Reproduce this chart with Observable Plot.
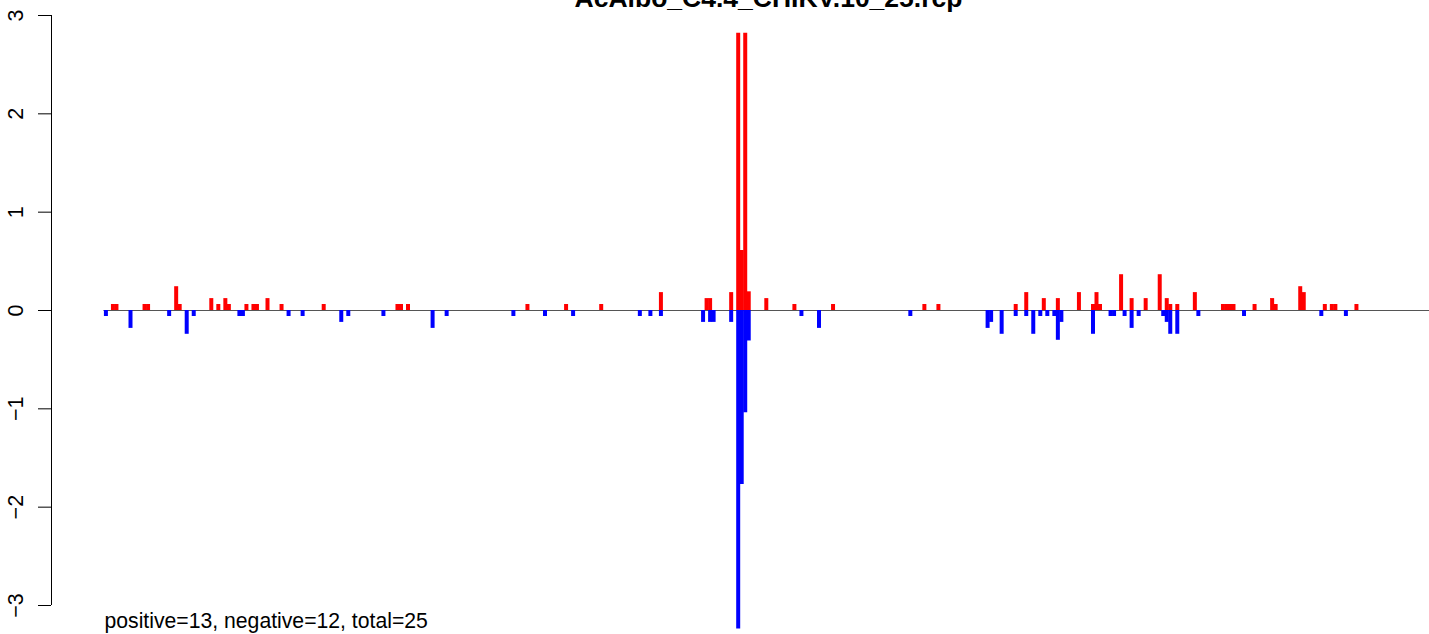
<!DOCTYPE html>
<html><head><meta charset="utf-8">
<script src="https://cdn.jsdelivr.net/npm/d3@7"></script>
<script src="https://cdn.jsdelivr.net/npm/@observablehq/plot@0.6"></script>
<style>
html,body{margin:0;padding:0;background:#fff;overflow:hidden}
#chart svg{display:block}
</style></head><body><div id="chart"></div>
<script>
const title = "AcAlbo_C4.4_CHIKV.10_25.rcp";
const caption = "positive=13, negative=12, total=25";
const yTicks = [-3, -2, -1, 0, 1, 2, 3];

// positive (red) bins: bin index and value
const posIndex = [2, 3, 11, 12, 20, 21, 30, 32, 34, 35, 40, 42, 43, 46, 50, 62, 83, 84, 86,
  120, 131, 141, 158, 171, 172, 178, 180, 181, 182, 183, 188, 196, 207, 233, 237,
  259, 262, 267, 271, 277, 281, 282, 283, 289, 292, 296, 300, 302, 303, 305, 310,
  318, 319, 320, 321, 327, 332, 333, 340, 341, 347, 349, 350, 356];
const posValue = [0.061, 0.061, 0.061, 0.061, 0.242, 0.061, 0.121, 0.061, 0.121, 0.061, 0.061, 0.061, 0.061, 0.121, 0.061, 0.061, 0.061, 0.061, 0.061,
  0.061, 0.061, 0.061, 0.182, 0.121, 0.121, 0.182, 2.82, 0.61, 2.82, 0.19, 0.121, 0.061, 0.061, 0.061, 0.061,
  0.061, 0.182, 0.121, 0.121, 0.182, 0.061, 0.182, 0.061, 0.364, 0.121, 0.121, 0.364, 0.121, 0.061, 0.061, 0.182,
  0.061, 0.061, 0.061, 0.061, 0.061, 0.121, 0.061, 0.242, 0.182, 0.061, 0.061, 0.061, 0.061];

// negative (blue) bins
const negIndex = [0, 7, 18, 23, 25, 38, 39, 52, 56, 67, 69, 79, 93, 97, 116, 125, 133, 152, 155, 158,
  170, 172, 173, 178, 180, 181, 182, 183, 198, 203, 229, 251, 252, 255, 259, 262, 264, 266, 268, 270,
  271, 272, 281, 286, 287, 290, 292, 294, 301, 302, 303, 305, 311, 324, 346, 353];
const negValue = [-0.061, -0.182, -0.061, -0.242, -0.061, -0.061, -0.061, -0.061, -0.061, -0.121, -0.061, -0.061, -0.182, -0.061, -0.061, -0.061, -0.061, -0.061, -0.061, -0.061,
  -0.121, -0.121, -0.121, -0.121, -3.24, -1.77, -1.04, -0.31, -0.061, -0.182, -0.061, -0.182, -0.121, -0.242, -0.061, -0.061, -0.242, -0.061, -0.061, -0.061,
  -0.303, -0.121, -0.242, -0.061, -0.061, -0.061, -0.182, -0.061, -0.061, -0.121, -0.242, -0.242, -0.061, -0.061, -0.061, -0.061];

const xExtent = [-15.49, 376.8];
const baselineStart = -0.55;

const pos = posIndex.map((i, k) => ({i, v: posValue[k]}));
const neg = negIndex.map((i, k) => ({i, v: negValue[k]}));
const font = "'Liberation Sans', Arial, Helvetica, sans-serif";
const fmt = d => d < 0 ? "\u2212" + (-d) : String(d);

const chart = Plot.plot({
  width: 1429, height: 634,
  marginLeft: 51, marginRight: 0, marginTop: 15, marginBottom: 29,
  style: {fontFamily: font, fontSize: "21.5px", background: "white", color: "black"},
  x: {domain: xExtent, axis: null},
  y: {domain: [-3, 3], label: null},
  marks: [
    Plot.ruleY([0], {x1: baselineStart, x2: xExtent[1], stroke: "#555", strokeWidth: 1}),
    Plot.ruleX(neg, {x: "i", y1: 0, y2: "v", stroke: "#0000ff", strokeWidth: 4}),
    Plot.ruleX(pos, {x: "i", y1: 0, y2: "v", stroke: "#ff0000", strokeWidth: 4}),
    Plot.axisY(yTicks, {tickSize: 13, tickRotate: -90, tickPadding: 16, tickFormat: fmt, fontSize: 21.5, stroke: "black", fill: "black"}),
    Plot.ruleX([xExtent[0]], {y1: d3.min(yTicks), y2: d3.max(yTicks), stroke: "black"}),
    Plot.text([caption], {text: d => d, frameAnchor: "bottom-left", dx: 53, dy: 22, textAnchor: "start", lineAnchor: "bottom", fontSize: 21.2, fill: "black"}),
    Plot.text([title], {text: d => d, frameAnchor: "top", dx: 28, dy: -9, textAnchor: "middle", lineAnchor: "bottom", fontSize: 26.5, fontWeight: "bold", fill: "black"})
  ]
});
document.getElementById("chart").appendChild(chart);
</script>
</body></html>
